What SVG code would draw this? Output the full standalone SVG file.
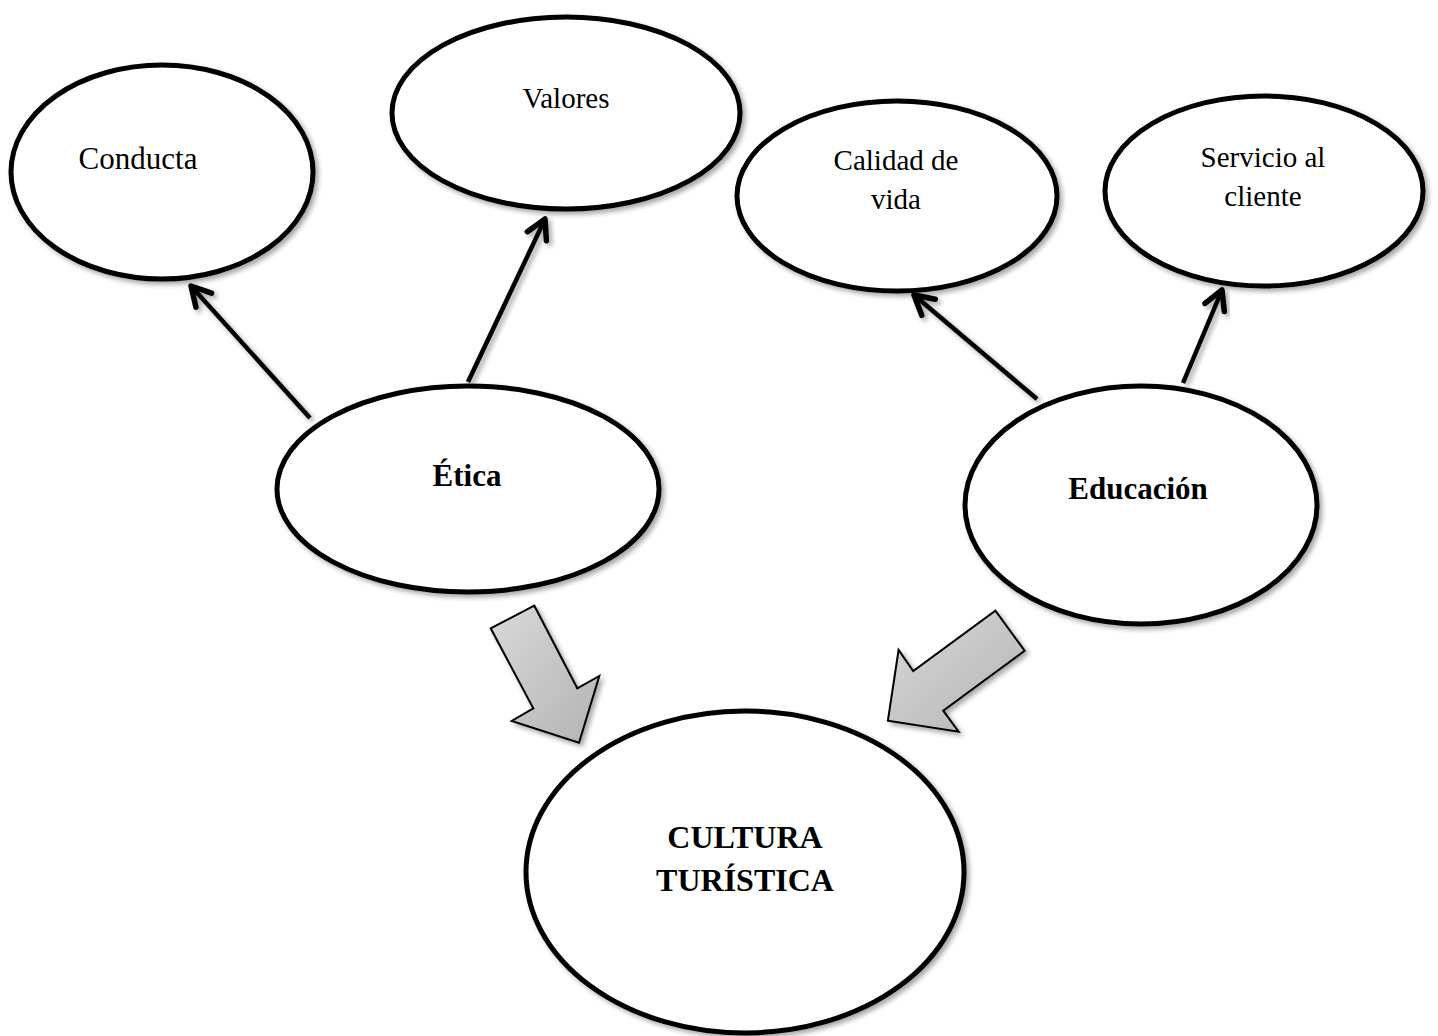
<svg xmlns="http://www.w3.org/2000/svg" width="1438" height="1036" viewBox="0 0 1438 1036">
  <defs>
    <filter id="shadow" x="-20%" y="-20%" width="140%" height="140%">
      <feDropShadow dx="3" dy="3" stdDeviation="2.5" flood-color="#000" flood-opacity="0.35"/>
    </filter>
    <linearGradient id="grayFill" x1="0" y1="0" x2="1" y2="1">
      <stop offset="0" stop-color="#d9d9d9"/>
      <stop offset="1" stop-color="#b3b3b3"/>
    </linearGradient>
    <marker id="openArrow" viewBox="-26 -16 32 32" refX="0" refY="0" markerWidth="32" markerHeight="32" markerUnits="userSpaceOnUse" orient="auto">
      <path d="M -19 -10.5 L 0 0 L -19 10.5" fill="none" stroke="#000" stroke-width="5.5" stroke-linejoin="round" stroke-linecap="round"/>
    </marker>
    <style>
      .node ellipse { fill: #fff; stroke: #000; stroke-width: 5; filter: url(#shadow); }
      .lbl { font-family: "Liberation Serif", "Times New Roman", serif; fill: #000; text-anchor: middle; }
      .reg { font-size: 29px; }
      .bold { font-weight: bold; font-size: 31px; }
      .conn line { stroke: #000; stroke-width: 4.5; fill: none; marker-end: url(#openArrow); filter: url(#shadow); }
      .block { fill: url(#grayFill); stroke: #000; stroke-width: 2; stroke-linejoin: miter; filter: url(#shadow); }
    </style>
  </defs>
  <rect width="1438" height="1036" fill="#fff"/>

  <g id="connectors" class="conn">
    <line x1="310" y1="418" x2="191" y2="286"/>
    <line x1="468" y1="382" x2="545" y2="219"/>
    <line x1="1037" y1="399" x2="914" y2="295"/>
    <line x1="1183" y1="383" x2="1222" y2="290"/>
    <polygon class="block" points="490.7,628.3 534.3,605.7 577.3,688.3 599.3,676 579,742.7 511.7,721 533.3,708.3"/>
    <polygon class="block" points="1024.6,650.7 995.4,610.7 913.2,671 898.6,650 887.9,720.7 958.6,731.7 943.2,710.7"/>
  </g>

  <g id="conducta" class="node">
    <ellipse cx="162" cy="172" rx="151" ry="107"/>
    <text class="lbl reg" x="138" y="169" style="font-size:31px">Conducta</text>
  </g>
  <g id="valores" class="node">
    <ellipse cx="566" cy="113" rx="174" ry="96"/>
    <text class="lbl reg" x="566" y="108">Valores</text>
  </g>
  <g id="calidad" class="node">
    <ellipse cx="897" cy="196" rx="160" ry="95"/>
    <text class="lbl reg" x="896" y="170">Calidad de</text>
    <text class="lbl reg" x="896" y="209">vida</text>
  </g>
  <g id="servicio" class="node">
    <ellipse cx="1264" cy="191" rx="159" ry="95"/>
    <text class="lbl reg" x="1263" y="167">Servicio al</text>
    <text class="lbl reg" x="1263" y="206">cliente</text>
  </g>
  <g id="etica" class="node">
    <ellipse cx="468" cy="489" rx="191" ry="103"/>
    <text class="lbl bold" x="467" y="486">Ética</text>
  </g>
  <g id="educacion" class="node">
    <ellipse cx="1141" cy="505" rx="176" ry="119"/>
    <text class="lbl bold" x="1138" y="499">Educación</text>
  </g>
  <g id="cultura" class="node">
    <ellipse cx="745" cy="872" rx="219" ry="161"/>
    <text class="lbl bold" x="745" y="848" style="font-size:32px">CULTURA</text>
    <text class="lbl bold" x="745" y="891" style="font-size:32px">TURÍSTICA</text>
  </g>
</svg>
